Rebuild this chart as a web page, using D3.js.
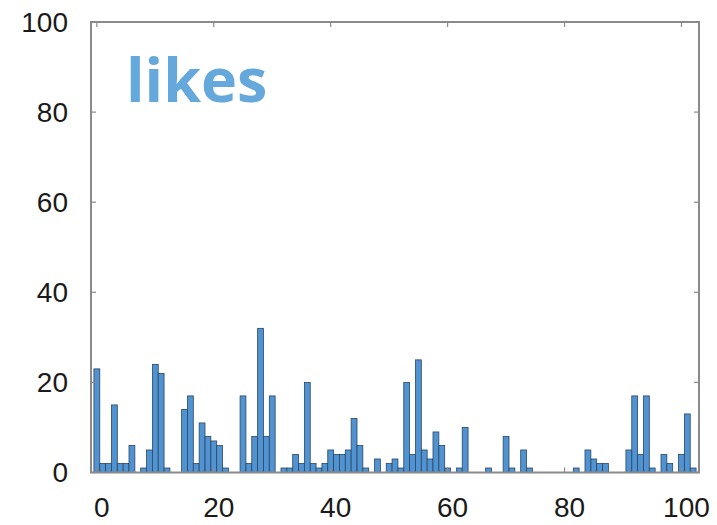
<!DOCTYPE html>
<html>
<head>
<meta charset="utf-8">
<script src="https://cdn.jsdelivr.net/npm/d3@7"></script>
<style>
  html, body { margin: 0; padding: 0; background: #fff; }
  svg { display: block; }
</style>
</head>
<body>
<svg id="chart" width="717" height="525"></svg>
<script>
// ---- data ----
const titleText = "likes";
const likes = [
  23, 2, 2, 15, 2, 2, 6, 0, 1, 5,
  24, 22, 1, 0, 0, 14, 17, 2, 11, 8,
  7, 6, 1, 0, 0, 17, 2, 8, 32, 8,
  17, 0, 1, 1, 4, 2, 20, 2, 1, 2,
  5, 4, 4, 5, 12, 6, 1, 0, 3, 0,
  2, 3, 1, 20, 4, 25, 5, 3, 9, 6,
  1, 0, 1, 10, 0, 0, 0, 1, 0, 0,
  8, 1, 0, 5, 1, 0, 0, 0, 0, 0,
  0, 0, 1, 0, 5, 3, 2, 2, 0, 0,
  0, 5, 17, 4, 17, 1, 0, 4, 2, 0,
  4, 13, 1
];
const xTicks = [0, 20, 40, 60, 80, 100];
const yTicks = [0, 20, 40, 60, 80, 100];

// ---- layout ----
const svg = d3.select("#chart");
const pLeft = 91, pRight = 699, pTop = 22, pBottom = 472.5;

const x = d3.scaleLinear().domain([-1, 103]).range([pLeft, pRight]);
const y = d3.scaleLinear().domain([0, 100]).range([pBottom, pTop]);

// bars
svg.append("g")
  .selectAll("rect")
  .data(likes.map((v, i) => ({i, v})).filter(d => d.v > 0))
  .join("rect")
  .attr("x", d => x(d.i - 0.5))
  .attr("width", d => x(d.i + 0.5) - x(d.i - 0.5))
  .attr("y", d => y(d.v))
  .attr("height", d => y(0) - y(d.v))
  .attr("fill", "#5193d1")
  .attr("stroke", "#2a4766")
  .attr("stroke-width", 0.8);

// frame
const frameColor = "#8a8a8a";
svg.append("rect")
  .attr("x", pLeft).attr("y", pTop)
  .attr("width", pRight - pLeft).attr("height", pBottom - pTop)
  .attr("fill", "none")
  .attr("stroke", frameColor)
  .attr("stroke-width", 2);

const tickLen = 5;
const gx = svg.append("g");
gx.selectAll("line.tb")
  .data(xTicks).join("line")
  .attr("class", "tb")
  .attr("x1", d => x(d)).attr("x2", d => x(d))
  .attr("y1", pBottom).attr("y2", pBottom - tickLen)
  .attr("stroke", frameColor).attr("stroke-width", 1.2);
gx.selectAll("line.tt")
  .data(xTicks).join("line")
  .attr("class", "tt")
  .attr("x1", d => x(d)).attr("x2", d => x(d))
  .attr("y1", pTop).attr("y2", pTop + tickLen)
  .attr("stroke", frameColor).attr("stroke-width", 1.2);

const gy = svg.append("g");
gy.selectAll("line.yl")
  .data(yTicks).join("line")
  .attr("class", "yl")
  .attr("x1", pLeft).attr("x2", pLeft + tickLen)
  .attr("y1", d => y(d)).attr("y2", d => y(d))
  .attr("stroke", frameColor).attr("stroke-width", 1.2);
gy.selectAll("line.yr")
  .data(yTicks).join("line")
  .attr("class", "yr")
  .attr("x1", pRight).attr("x2", pRight - tickLen)
  .attr("y1", d => y(d)).attr("y2", d => y(d))
  .attr("stroke", frameColor).attr("stroke-width", 1.2);

// tick labels
const fontFam = "'Liberation Sans', Arial, Helvetica, sans-serif";
svg.append("g").selectAll("text")
  .data(xTicks).join("text")
  .attr("x", d => x(d) + 5)
  .attr("y", 507)
  .attr("text-anchor", "middle")
  .attr("dominant-baseline", "central")
  .attr("font-family", fontFam)
  .attr("font-size", 28)
  .attr("fill", "#1a1a1a")
  .text(d => d);

svg.append("g").selectAll("text")
  .data(yTicks).join("text")
  .attr("x", 68)
  .attr("y", d => y(d))
  .attr("text-anchor", "end")
  .attr("dominant-baseline", "central")
  .attr("font-family", fontFam)
  .attr("font-size", 28)
  .attr("fill", "#1a1a1a")
  .text(d => d);

// title
svg.append("text")
  .attr("x", 126)
  .attr("y", 102)
  .attr("font-family", "'Open Sans', 'Noto Sans', sans-serif")
  .attr("font-weight", "bold")
  .attr("font-size", 61)
  .attr("fill", "#65a8dc")
  .text(titleText);
</script>
</body>
</html>
